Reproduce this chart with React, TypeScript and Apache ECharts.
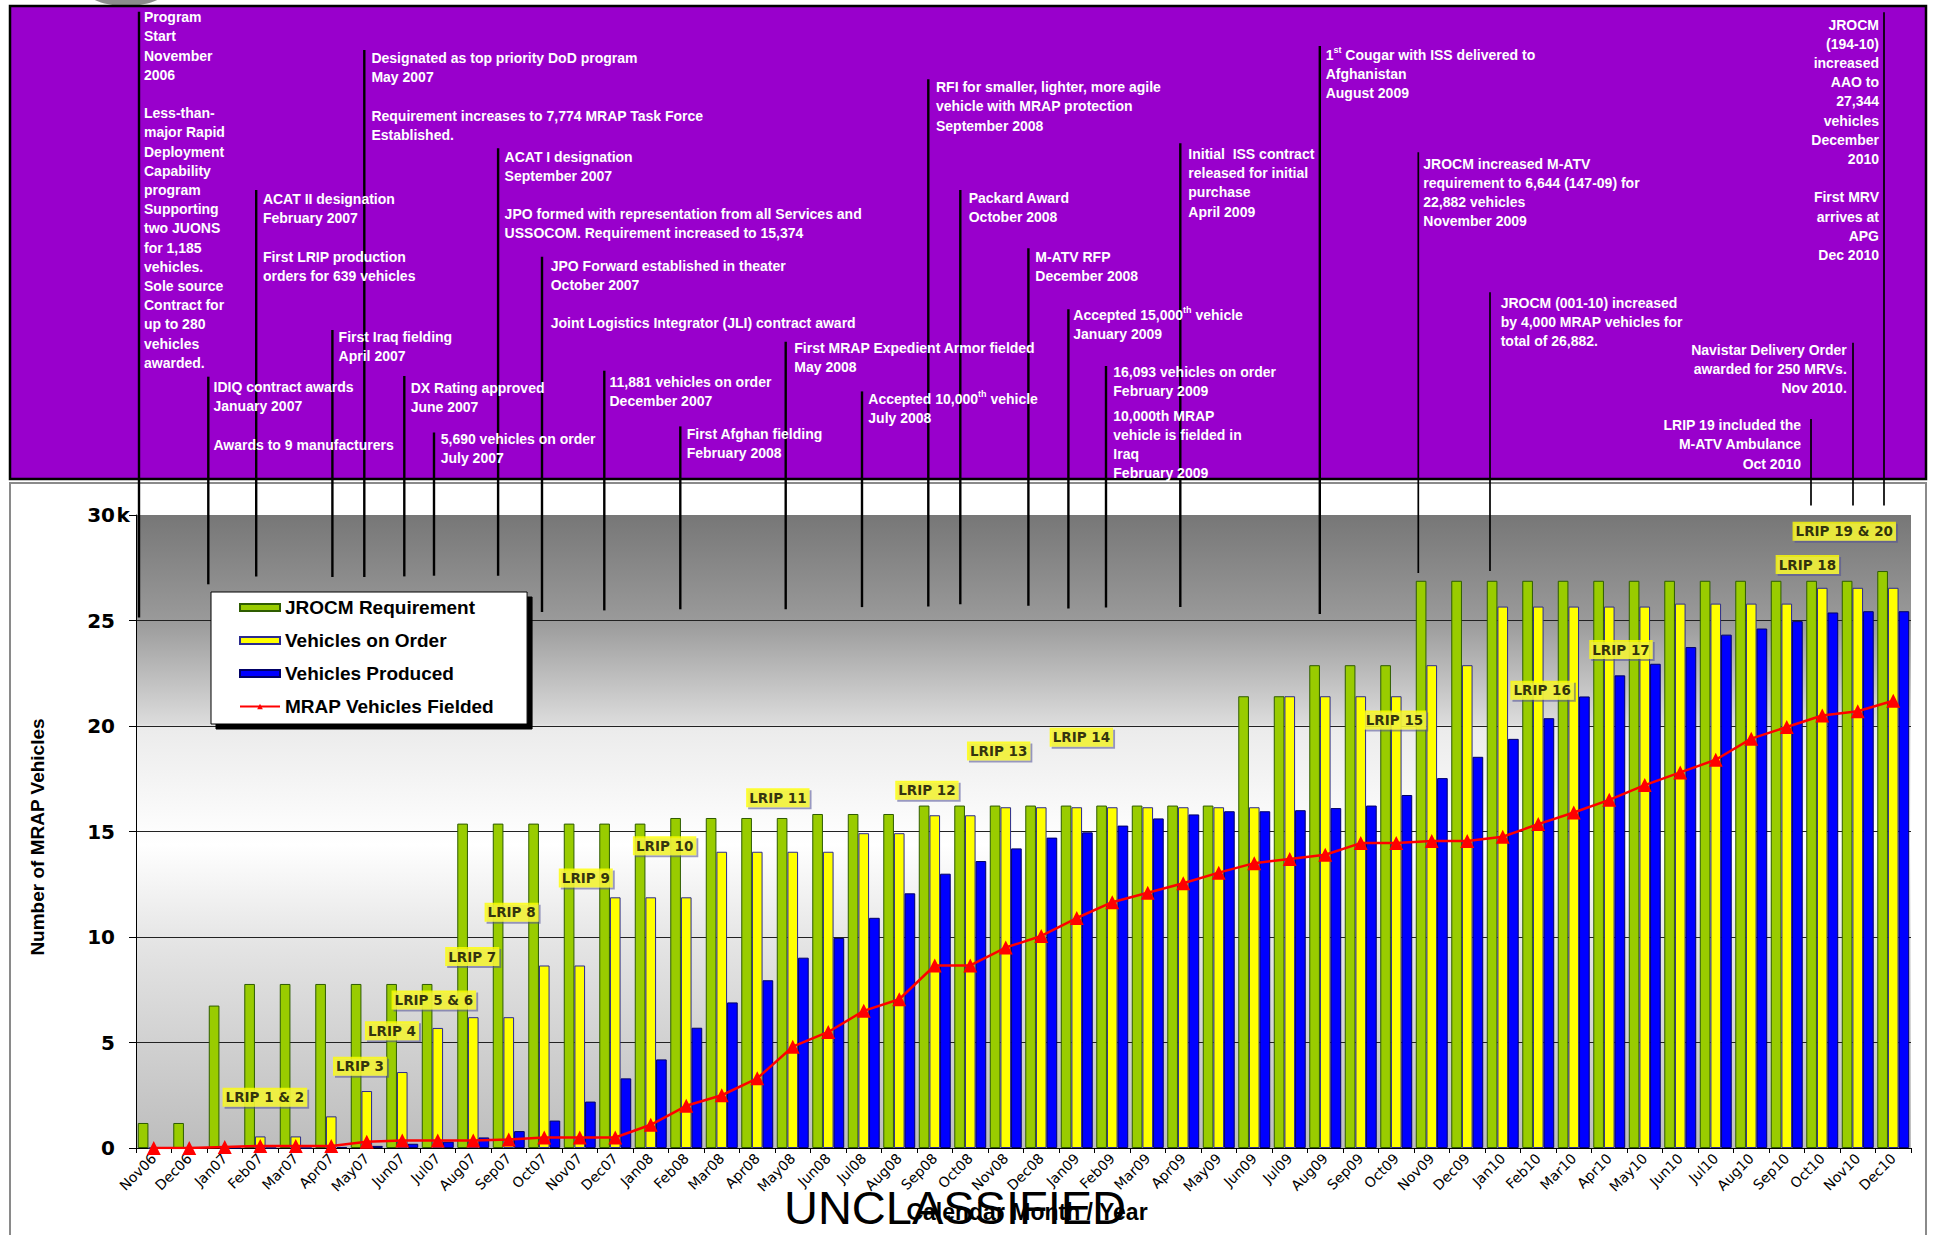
import React, { useEffect, useRef } from "react";
import * as echarts from "echarts";

const months = ["Nov06","Dec06","Jan07","Feb07","Mar07","Apr07","May07","Jun07","Jul07","Aug07","Sep07","Oct07","Nov07","Dec07","Jan08","Feb08","Mar08","Apr08","May08","Jun08","Jul08","Aug08","Sep08","Oct08","Nov08","Dec08","Jan09","Feb09","Mar09","Apr09","May09","Jun09","Jul09","Aug09","Sep09","Oct09","Nov09","Dec09","Jan10","Feb10","Mar10","Apr10","May10","Jun10","Jul10","Aug10","Sep10","Oct10","Nov10","Dec10"];

// values in thousands of vehicles
const jrocmRequirement = [1.185,1.185,6.75,7.774,7.774,7.774,7.774,7.774,7.774,15.374,15.374,15.374,15.374,15.374,15.374,15.64,15.64,15.64,15.64,15.83,15.83,15.83,16.23,16.23,16.23,16.23,16.23,16.23,16.23,16.23,16.23,21.41,21.41,22.882,22.882,22.882,26.882,26.882,26.882,26.882,26.882,26.882,26.882,26.882,26.882,26.882,26.882,26.882,26.882,27.344];
const vehiclesOnOrder = [0,0,0,0.55,0.55,1.5,2.7,3.6,5.69,6.2,6.2,8.65,8.65,11.881,11.881,11.881,14.04,14.04,14.04,14.04,14.92,14.92,15.77,15.77,16.15,16.15,16.15,16.15,16.15,16.15,16.15,16.15,21.41,21.41,21.41,21.41,22.882,22.882,25.66,25.66,25.66,25.66,25.66,25.8,25.8,25.8,25.8,26.55,26.55,26.55];
const vehiclesProduced = [0,0,0,0,0,0.05,0.1,0.2,0.3,0.5,0.8,1.3,2.2,3.3,4.2,5.7,6.9,7.95,9.02,9.95,10.91,12.07,13.0,13.6,14.2,14.71,14.96,15.28,15.62,15.81,15.96,15.96,16.01,16.11,16.23,16.73,17.53,18.54,19.39,20.37,21.4,22.4,22.95,23.74,24.33,24.62,24.97,25.38,25.44,25.44];
const vehiclesFielded = [0,0,0.05,0.1,0.1,0.1,0.3,0.35,0.35,0.35,0.4,0.5,0.5,0.5,1.1,2.0,2.5,3.3,4.8,5.5,6.5,7.05,8.65,8.65,9.5,10.05,10.9,11.65,12.1,12.55,13.05,13.5,13.7,13.9,14.45,14.45,14.55,14.55,14.75,15.35,15.9,16.5,17.2,17.8,18.4,19.4,19.95,20.5,20.7,21.2];

const lripNames = ["LRIP 1 & 2","LRIP 3","LRIP 4","LRIP 5 & 6","LRIP 7","LRIP 8","LRIP 9","LRIP 10","LRIP 11","LRIP 12","LRIP 13","LRIP 14","LRIP 15","LRIP 16","LRIP 17","LRIP 18","LRIP 19 & 20"];
const lripMonthPos = [3.13,5.81,6.71,7.89,8.97,10.08,12.17,14.39,17.58,21.78,23.8,26.13,34.95,39.11,41.33,46.58,47.62];
const lripValuePos = [2.4,3.87,5.56,7.02,9.07,11.17,12.8,14.33,16.6,16.96,18.82,19.47,20.28,21.69,23.62,27.65,29.23];

const SANS = "'Liberation Sans', Arial, Helvetica, sans-serif";
const DJ = "'DejaVu Sans', Verdana, sans-serif";
const NARROW = "'Liberation Sans Narrow', 'Arial Narrow', 'Liberation Sans', Arial, sans-serif";

type Note = { lx: number; y1: number; y2: number; w: number; tx: number; ty: number; text: string; align?: "left" | "right" };

const notes: Note[] = [
  { lx: 139, y1: 11.7, y2: 617.5, w: 2.4, tx: 144, ty: 17.3, text: "Program\nStart\nNovember\n2006\n\nLess-than-\nmajor Rapid\nDeployment\nCapability\nprogram\nSupporting\ntwo JUONS\nfor 1,185\nvehicles.\nSole source\nContract for\nup to 280\nvehicles\nawarded." },
  { lx: 208.3, y1: 376.7, y2: 584.3, w: 2.4, tx: 213.5, ty: 387, text: "IDIQ contract awards\nJanuary 2007\n\nAwards to 9 manufacturers" },
  { lx: 256.2, y1: 190, y2: 576.4, w: 2.4, tx: 262.9, ty: 199.3, text: "ACAT II designation\nFebruary 2007\n\nFirst LRIP production\norders for 639 vehicles" },
  { lx: 332.4, y1: 330, y2: 577, w: 2.4, tx: 338.6, ty: 336.7, text: "First Iraq fielding\nApril 2007" },
  { lx: 364.3, y1: 50, y2: 577, w: 2.4, tx: 371.4, ty: 58.3, text: "Designated as top priority DoD program\nMay 2007\n\nRequirement increases to 7,774 MRAP Task Force\nEstablished." },
  { lx: 404.3, y1: 376, y2: 576.4, w: 2.4, tx: 410.7, ty: 387.9, text: "DX Rating approved\nJune 2007" },
  { lx: 434, y1: 432.5, y2: 575.7, w: 2.4, tx: 440.7, ty: 439, text: "5,690 vehicles on order\nJuly 2007" },
  { lx: 498.1, y1: 148.3, y2: 575.7, w: 2.4, tx: 504.6, ty: 156.7, text: "ACAT I designation\nSeptember 2007\n\nJPO formed with representation from all Services and\nUSSOCOM. Requirement increased to 15,374" },
  { lx: 542, y1: 256.7, y2: 612, w: 2.4, tx: 550.7, ty: 265.7, text: "JPO Forward established in theater\nOctober 2007\n\nJoint Logistics Integrator (JLI) contract award" },
  { lx: 604.3, y1: 370.7, y2: 610.4, w: 2.4, tx: 609.5, ty: 382, text: "11,881 vehicles on order\nDecember 2007" },
  { lx: 680.3, y1: 426.4, y2: 609.3, w: 2.4, tx: 686.7, ty: 433.6, text: "First Afghan fielding\nFebruary 2008" },
  { lx: 785.7, y1: 341.7, y2: 609.3, w: 2.4, tx: 794.3, ty: 347.7, text: "First MRAP Expedient Armor fielded\nMay 2008" },
  { lx: 862, y1: 391.4, y2: 607.1, w: 2.4, tx: 868.3, ty: 399, text: "Accepted 10,000{s|th} vehicle\nJuly 2008" },
  { lx: 928.3, y1: 79.3, y2: 606.4, w: 2.4, tx: 936, ty: 87.3, text: "RFI for smaller, lighter, more agile\nvehicle with MRAP protection\nSeptember 2008" },
  { lx: 960.3, y1: 190, y2: 604.3, w: 2.4, tx: 968.7, ty: 197.7, text: "Packard Award\nOctober 2008" },
  { lx: 1028.4, y1: 248.3, y2: 605.7, w: 2.4, tx: 1035.3, ty: 257, text: "M-ATV RFP\nDecember 2008" },
  { lx: 1068.4, y1: 309.3, y2: 608.6, w: 2.4, tx: 1073.3, ty: 315, text: "Accepted 15,000{s|th} vehicle\nJanuary 2009" },
  { lx: 1106, y1: 366, y2: 607.5, w: 2.4, tx: 1113.3, ty: 371.7, text: "16,093 vehicles on order\nFebruary 2009" },
  { lx: -1, y1: 0, y2: 0, w: 0, tx: 1113.3, ty: 415.7, text: "10,000th MRAP\nvehicle is fielded in\nIraq\nFebruary 2009" },
  { lx: 1180.3, y1: 143.3, y2: 607, w: 2.4, tx: 1188.3, ty: 154, text: "Initial  ISS contract\nreleased for initial\npurchase\nApril 2009" },
  { lx: 1319.8, y1: 46, y2: 614, w: 2.4, tx: 1325.7, ty: 55, text: "1{s|st} Cougar with ISS delivered to\nAfghanistan\nAugust 2009" },
  { lx: 1418.3, y1: 152.3, y2: 572.9, w: 1.7, tx: 1423.3, ty: 163.7, text: "JROCM increased M-ATV\nrequirement to 6,644 (147-09) for\n22,882 vehicles\nNovember 2009" },
  { lx: 1490, y1: 292.3, y2: 571, w: 1.7, tx: 1500.7, ty: 302.7, text: "JROCM (001-10) increased\nby 4,000 MRAP vehicles for\ntotal of 26,882." },
  { lx: 1853, y1: 342.7, y2: 505.5, w: 1.7, tx: 1846.8, ty: 350, text: "Navistar Delivery Order\nawarded for 250 MRVs.\nNov 2010.", align: "right" },
  { lx: 1811, y1: 419, y2: 505.5, w: 1.7, tx: 1801, ty: 425.3, text: "LRIP 19 included the\nM-ATV Ambulance\nOct 2010", align: "right" },
  { lx: 1884, y1: 12.3, y2: 505.5, w: 1.7, tx: 1879, ty: 24.7, text: "JROCM\n(194-10)\nincreased\nAAO to\n27,344\nvehicles\nDecember\n2010\n\nFirst MRV\narrives at\nAPG\nDec 2010", align: "right" },
];

const LH = 19.2;

export default function App() {
  const ref = useRef<HTMLDivElement>(null);

  useEffect(() => {
    if (!ref.current) return;
    const chart = echarts.init(ref.current, null, { renderer: "svg" });

    const graphic: any[] = [];
    graphic.push({ type: "ellipse", shape: { cx: 126, cy: -10, rx: 40, ry: 16 }, style: { fill: "#8c8c8c" }, z: 0 });
    graphic.push({ type: "rect", shape: { x: 10, y: 483, width: 1916, height: 780 }, style: { fill: "#ffffff", stroke: "#8a8a8a", lineWidth: 2 }, z: -5 });
    graphic.push({ type: "rect", shape: { x: 10, y: 6, width: 1916, height: 473 }, style: { fill: "#9900CC", stroke: "#000000", lineWidth: 2.5 }, z: 1 });

    notes.forEach((n) => {
      if (n.w > 0) {
        graphic.push({ type: "line", shape: { x1: n.lx, y1: n.y1, x2: n.lx, y2: n.y2 }, style: { stroke: "#000", lineWidth: n.w }, z: 100 });
      }
      const hasRich = n.text.indexOf("{s|") >= 0;
      const style: any = {
        text: n.text,
        fill: "#ffffff",
        fontFamily: SANS,
        fontWeight: "bold",
        fontSize: 14,
        lineHeight: LH,
        align: n.align || "left",
        verticalAlign: "top",
      };
      if (hasRich) {
        style.rich = { s: { fontSize: 9, fontWeight: "bold", fontFamily: SANS, fill: "#ffffff", verticalAlign: "top", lineHeight: 12 } };
      }
      graphic.push({ type: "text", x: n.tx, y: n.ty - LH / 2, style, z: 101 });
    });

    graphic.push({ type: "text", x: 116.5, y: 515, style: { text: "k", fill: "#000", fontFamily: DJ, fontWeight: "bold", fontSize: 20, align: "left", verticalAlign: "middle" }, z: 50 });
    graphic.push({ type: "text", x: 37, y: 837, rotation: Math.PI / 2, style: { text: "Number of MRAP Vehicles", fill: "#000", fontFamily: NARROW, fontWeight: "bold", fontSize: 19, align: "center", verticalAlign: "middle" }, z: 50 });
    graphic.push({ type: "text", x: 1027, y: 1212, style: { text: "Calendar Month / Year", fill: "#000", fontFamily: SANS, fontWeight: "bold", fontSize: 23, align: "center", verticalAlign: "middle" }, z: 50 });
    graphic.push({ type: "text", x: 955, y: 1207, style: { text: "UNCLASSIFIED", fill: "#000", fontFamily: SANS, fontWeight: "normal", fontSize: 47, align: "center", verticalAlign: "middle" }, z: 51 });

    const plotBg = new echarts.graphic.LinearGradient(0, 0, 0, 1, [
      { offset: 0, color: "#777777" },
      { offset: 0.167, color: "#9a9a9a" },
      { offset: 0.33, color: "#dcdcdc" },
      { offset: 0.335, color: "#ebebeb" },
      { offset: 0.52, color: "#ffffff" },
      { offset: 0.68, color: "#e4e4e4" },
      { offset: 0.85, color: "#cfcfcf" },
      { offset: 1, color: "#bdbdbd" },
    ]);

    const option: any = {
      animation: false,
      grid: { left: 136, top: 515, width: 1775, height: 633, show: true, backgroundColor: plotBg, borderWidth: 0, containLabel: false },
      legend: {
        orient: "vertical",
        left: 211,
        top: 592,
        backgroundColor: "#ffffff",
        borderColor: "#000",
        borderWidth: 1,
        padding: [6, 33, 8, 28],
        itemGap: 14,
        itemWidth: 40,
        itemHeight: 7,
        shadowColor: "#000",
        shadowBlur: 0,
        shadowOffsetX: 5,
        shadowOffsetY: 5,
        textStyle: { fontFamily: SANS, fontWeight: "bold", fontSize: 19, color: "#000", lineHeight: 18 },
        data: [
          { name: "JROCM Requirement", icon: "rect" },
          { name: "Vehicles on Order", icon: "rect" },
          { name: "Vehicles Produced", icon: "rect" },
          { name: "MRAP Vehicles Fielded" },
        ],
      },
      xAxis: [
        {
          type: "category",
          data: months,
          gridIndex: 0,
          axisLine: { show: true, onZero: false, lineStyle: { color: "#000", width: 1 } },
          axisTick: { show: true, interval: 0, length: 5, lineStyle: { color: "#000" } },
          axisLabel: { interval: 0, rotate: 45, fontSize: 14, fontFamily: DJ, color: "#000", margin: 8 },
          splitLine: { show: false },
        },
        { type: "value", min: -0.5, max: 49.5, show: false, gridIndex: 0, axisLine: { onZero: false } },
      ],
      yAxis: {
        type: "value",
        min: 0,
        max: 30,
        interval: 5,
        axisLine: { show: true, onZero: false, lineStyle: { color: "#000", width: 1 } },
        axisTick: { show: true, length: 7, lineStyle: { color: "#000" } },
        axisLabel: { fontSize: 20, fontWeight: "bold", fontFamily: DJ, color: "#000", margin: 21 },
        splitLine: { show: true, lineStyle: { color: ["#222", "#222", "#222", "#222", "#222", "#222", "rgba(0,0,0,0)"], width: 1 } },
      },
      series: [
        {
          type: "bar",
          name: "JROCM Requirement",
          data: jrocmRequirement,
          barGap: "0%",
          barCategoryGap: "10%",
          itemStyle: { color: "#99CC00", borderColor: "#2E5C00", borderWidth: 1 },
        },
        {
          type: "bar",
          name: "Vehicles on Order",
          data: vehiclesOnOrder,
          barGap: "0%",
          barCategoryGap: "10%",
          itemStyle: { color: "#FFFF00", borderColor: "#2B2B8F", borderWidth: 1 },
        },
        {
          type: "bar",
          name: "Vehicles Produced",
          data: vehiclesProduced,
          barGap: "0%",
          barCategoryGap: "10%",
          itemStyle: { color: "#0000FF", borderColor: "#000066", borderWidth: 1 },
        },
        {
          type: "line",
          name: "MRAP Vehicles Fielded",
          data: vehiclesFielded,
          symbol: "triangle",
          symbolSize: 14,
          lineStyle: { color: "#FF0000", width: 2.5 },
          itemStyle: { color: "#FF0000" },
          z: 5,
        },
        {
          type: "scatter",
          name: "LRIP",
          xAxisIndex: 1,
          yAxisIndex: 0,
          silent: true,
          symbolSize: 1,
          itemStyle: { color: "rgba(0,0,0,0)" },
          z: 10,
          data: lripNames.map((n, i) => ({ name: n, value: [lripMonthPos[i], lripValuePos[i]] })),
          label: {
            show: true,
            position: "inside",
            formatter: "{b}",
            color: "#000",
            fontFamily: DJ,
            fontWeight: "bold",
            fontSize: 13.5,
            lineHeight: 15,
            backgroundColor: "#FFFF00",
            padding: [2, 3, 2, 3],
            shadowColor: "rgba(80,80,150,0.7)",
            shadowBlur: 0,
            shadowOffsetX: 2,
            shadowOffsetY: 2,
          },
        },
      ],
      graphic,
    };

    chart.setOption(option);
    return () => {
      chart.dispose();
    };
  }, []);

  return <div ref={ref} style={{ position: "absolute", left: 0, top: 0, width: 1933, height: 1235 }} />;
}
